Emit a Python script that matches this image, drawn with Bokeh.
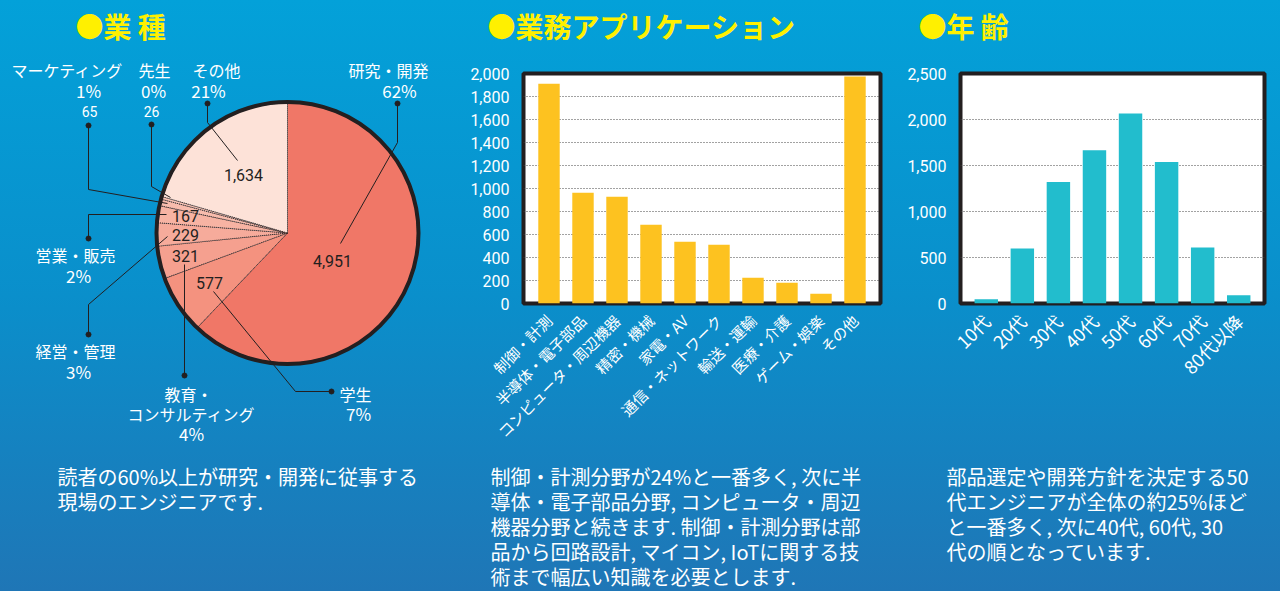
import math
from bokeh.plotting import figure
from bokeh.layouts import row, column
from bokeh.models import (Range1d, FactorRange, NumeralTickFormatter, FixedTicker)
from bokeh.core.properties import value
from bokeh.embed import file_html
from bokeh.resources import INLINE

# ---------------- data ----------------
industry_names = ["研究・開発", "学生", "教育・コンサルティング", "経営・管理",
                  "営業・販売", "マーケティング", "先生", "その他"]
industry_counts = [4951, 577, 321, 229, 167, 65, 26, 1634]
industry_shares = ["62%", "7%", "4%", "3%", "2%", "1%", "0%", "21%"]

app_names = ["制御・計測", "半導体・電子部品", "コンピュータ・周辺機器", "精密・機械",
             "家電・AV", "通信・ネットワーク", "輸送・運輸", "医療・介護",
             "ゲーム・娯楽", "その他"]
app_counts = [1910, 963, 928, 684, 537, 510, 223, 180, 84, 1974]
app_ticks = [0, 200, 400, 600, 800, 1000, 1200, 1400, 1600, 1800, 2000]

age_names = ["10代", "20代", "30代", "40代", "50代", "60代", "70代", "80代以降"]
age_counts = [45, 597, 1321, 1666, 2066, 1537, 608, 90]
age_ticks = [0, 500, 1000, 1500, 2000, 2500]

titles = ["●業 種", "●業務アプリケーション", "●年 齢"]
notes_industry = ["読者の60%以上が研究・開発に従事する", "現場のエンジニアです."]
notes_app = ["制御・計測分野が24%と一番多く, 次に半",
             "導体・電子部品分野, コンピュータ・周辺",
             "機器分野と続きます. 制御・計測分野は部",
             "品から回路設計, マイコン, IoTに関する技",
             "術まで幅広い知識を必要とします."]
notes_age = ["部品選定や開発方針を決定する50",
             "代エンジニアが全体の約25%ほど",
             "と一番多く, 次に40代, 60代, 30",
             "代の順となっています."]

# ---------------- style / layout ----------------
H = 591
JP = "Noto Sans CJK JP"
NUM = "Roboto"
WHITE = "white"
DARK = "#231f20"
YELLOW = "#fff000"
slice_colors = ["#f07767", "#f4927f", "#f5a08f", "#f6ab9b", "#f7b3a3",
                "#f8bcad", "#f9c4b6", "#fde2d8"]
PIE_CX, PIE_CY, PIE_R = 287, 232.5, 130
TITLE_Y = 25
TITLE_SIZE = "28px"
NOTE_Y0, NOTE_DY = 476, 25
NOTE_SIZE = "20px"
TOP_H = 50          # height of the title strip
BOT_TOP = 455       # page y where the notes strip begins
FRAME_TOP, FRAME_BOTTOM = 73, 303

# label layout (page coordinates, y from top)
pie_layout = {
    "研究・開発": dict(name=[(388, 69)], share=(399, 90), count=(332, 260), inside=True,
                  lead=[(397, 103), (397, 142), (340, 243)]),
    "学生": dict(name=[(355, 393)], share=(358, 413), count=(209, 282), inside=True,
               lead=[(331, 391), (295, 391), (213, 291)]),
    "教育・コンサルティング": dict(name=[(188, 393), (191, 413)], share=(191, 433),
                        count=(185, 255), inside=True,
                        lead=[(184, 375), (184, 264)]),
    "経営・管理": dict(name=[(75, 350)], share=(78, 371), count=(185, 234), inside=True,
                  lead=[(88, 334), (88, 304), (167, 236)]),
    "営業・販売": dict(name=[(75, 254)], share=(78, 275), count=(185, 215), inside=True,
                  lead=[(88, 238), (88, 214), (166, 214)]),
    "マーケティング": dict(name=[(67, 69)], share=(88, 90), count=(89, 111), inside=False,
                    lead=[(88, 125), (88, 189), (167, 203)]),
    "先生": dict(name=[(154, 69)], share=(153, 90), count=(151, 111), inside=False,
               lead=[(151, 124), (151, 186), (170, 197)]),
    "その他": dict(name=[(216, 69)], share=(208, 90), count=(243, 174), inside=True,
                lead=[(207, 103), (207, 122), (237, 160)]),
}
name_wrap = {"教育・コンサルティング": ["教育・", "コンサルティング"]}


def plain_fig(width, height):
    p = figure(width=width, height=height, x_range=Range1d(0, width),
               y_range=Range1d(0, height), min_border=0, toolbar_location=None,
               output_backend="svg", background_fill_color=None,
               border_fill_color=None, outline_line_color=None)
    p.frame_align = False
    p.axis.visible = False
    p.grid.visible = False
    return p


# ---------------- panel 1 : pie ----------------
p1 = plain_fig(460, H)


def fy(v):
    return H - v


total = sum(industry_counts)
starts, ends = [], []
cum = 0
for c in industry_counts:
    starts.append(math.pi / 2 - 2 * math.pi * cum / total)
    cum += c
    ends.append(math.pi / 2 - 2 * math.pi * cum / total)

p1.wedge(x=PIE_CX, y=fy(PIE_CY), radius=PIE_R, start_angle=starts, end_angle=ends,
         direction="clock", fill_color=slice_colors, line_color="#3b2b29",
         line_dash="1 1", line_width=1)
p1.circle(x=[PIE_CX], y=[fy(PIE_CY)], radius=PIE_R + 1, fill_color=None,
          line_color=DARK, line_width=4)

lead_xs, lead_ys, dot_x, dot_y = [], [], [], []
name_t, name_x, name_y = [], [], []
share_t, share_x, share_y = [], [], []
cin_t, cin_x, cin_y, cout_t, cout_x, cout_y = [], [], [], [], [], []
for nm, cnt, sh in zip(industry_names, industry_counts, industry_shares):
    L = pie_layout[nm]
    lines = name_wrap.get(nm, [nm])
    for t, (x, y) in zip(lines, L["name"]):
        name_t.append(t); name_x.append(x); name_y.append(fy(y))
    share_t.append(sh); share_x.append(L["share"][0]); share_y.append(fy(L["share"][1]))
    txt = f"{cnt:,}"
    if L["inside"]:
        cin_t.append(txt); cin_x.append(L["count"][0]); cin_y.append(fy(L["count"][1]))
    else:
        cout_t.append(txt); cout_x.append(L["count"][0]); cout_y.append(fy(L["count"][1]))
    lead_xs.append([pt[0] for pt in L["lead"]])
    lead_ys.append([fy(pt[1]) for pt in L["lead"]])
    dot_x.append(L["lead"][0][0]); dot_y.append(fy(L["lead"][0][1]))

p1.multi_line(xs=lead_xs, ys=lead_ys, line_color=DARK, line_width=1)
p1.scatter(x=dot_x, y=dot_y, size=5, color=DARK)
p1.text(x=name_x, y=name_y, text=name_t, text_color=WHITE, text_font=value(JP),
        text_font_size="16px", text_align="center", text_baseline="middle")
p1.text(x=share_x, y=share_y, text=share_t, text_color=WHITE, text_font=value(JP),
        text_font_size="17px", text_align="center", text_baseline="middle")
p1.text(x=cin_x, y=cin_y, text=cin_t, text_color=DARK, text_font=value(NUM),
        text_font_size="16px", text_align="center", text_baseline="middle")
p1.text(x=cout_x, y=cout_y, text=cout_t, text_color=WHITE, text_font=value(NUM),
        text_font_size="14px", text_align="center", text_baseline="middle")
p1.text(x=[75], y=[fy(TITLE_Y)], text=[titles[0]], text_color=YELLOW,
        text_font=value(JP), text_font_size=TITLE_SIZE, text_font_style="bold",
        text_align="left", text_baseline="middle")
p1.text(x=[57] * len(notes_industry),
        y=[fy(NOTE_Y0 + NOTE_DY * i) for i in range(len(notes_industry))],
        text=notes_industry, text_color=WHITE, text_font=value(JP),
        text_font_size=NOTE_SIZE, text_align="left", text_baseline="middle")


# ---------------- bar panels ----------------
def bar_panel(page_left, width, names, counts, ticks, color, bar_w, pad,
              b_left, b_right, lab_size, title, title_x, notes, notes_x):
    # title strip
    t = plain_fig(width, TOP_H)
    t.text(x=[title_x - page_left], y=[TOP_H - TITLE_Y], text=[title], text_color=YELLOW,
           text_font=value(JP), text_font_size=TITLE_SIZE, text_font_style="bold",
           text_align="left", text_baseline="middle")

    # chart
    ch = BOT_TOP - TOP_H
    p = figure(width=width, height=ch,
               x_range=FactorRange(factors=names, range_padding=pad,
                                   range_padding_units="absolute"),
               y_range=Range1d(ticks[0], ticks[-1]),
               toolbar_location=None, output_backend="svg",
               min_border_left=b_left, min_border_right=b_right,
               min_border_top=FRAME_TOP - TOP_H,
               min_border_bottom=BOT_TOP - FRAME_BOTTOM,
               background_fill_color="white", border_fill_color=None,
               outline_line_color=DARK, outline_line_width=4)
    p.frame_align = False
    p.vbar(x=names, top=counts, width=bar_w, fill_color=color, line_color=None)

    p.yaxis.ticker = FixedTicker(ticks=ticks)
    p.yaxis.formatter = NumeralTickFormatter(format="0,0")
    p.yaxis.major_label_text_color = WHITE
    p.yaxis.major_label_text_font = NUM
    p.yaxis.major_label_text_font_size = "16px"
    p.yaxis.axis_line_color = None
    p.yaxis.major_tick_line_color = None
    p.yaxis.minor_tick_line_color = None
    p.yaxis.major_label_standoff = 8

    p.xaxis.major_label_orientation = math.pi / 4
    p.xaxis.major_label_text_color = WHITE
    p.xaxis.major_label_text_font = JP
    p.xaxis.major_label_text_font_size = lab_size
    p.xaxis.axis_line_color = None
    p.xaxis.major_tick_line_color = None
    p.xaxis.minor_tick_line_color = None
    p.xaxis.major_label_standoff = 8

    p.xgrid.grid_line_color = None
    p.ygrid.ticker = FixedTicker(ticks=ticks[1:-1])
    p.ygrid.grid_line_color = "#444444"
    p.ygrid.grid_line_dash = "1 2"

    # notes strip
    nh = H - BOT_TOP
    n = plain_fig(width, nh)
    n.text(x=[notes_x - page_left] * len(notes),
           y=[nh - (NOTE_Y0 + NOTE_DY * i - BOT_TOP) for i in range(len(notes))],
           text=notes, text_color=WHITE, text_font=value(JP), text_font_size=NOTE_SIZE,
           text_align="left", text_baseline="middle")
    return column(t, p, n, spacing=0)


c2 = bar_panel(460, 430, app_names, app_counts, app_ticks, "#fdc220", 0.63, 0.25,
               63, 10, "15px", titles[1], 487, notes_app, 490)
c3 = bar_panel(890, 390, age_names, age_counts, age_ticks, "#22bdcd", 0.65, 0.215,
               70, 16, "18px", titles[2], 918, notes_age, 946)

layout = row(p1, c2, c3, spacing=0, styles={
    "background": "linear-gradient(to bottom, #03a1d9 0%, #0a8fcb 50%, #1f76b6 100%)"})

open("out.html", "w").write(file_html(layout, INLINE))
